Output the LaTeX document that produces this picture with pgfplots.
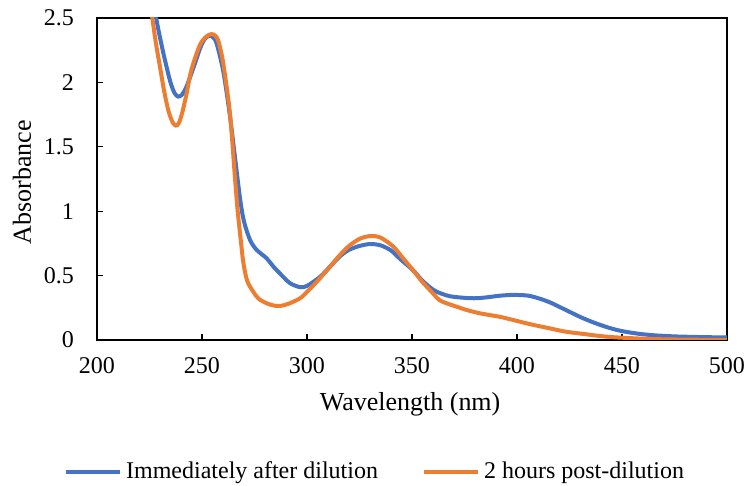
\documentclass[border=0pt]{standalone}
\usepackage{pgfplots}
\pgfplotsset{compat=1.18}
\usepackage{fontspec}
\setmainfont{Liberation Serif}
\definecolor{exblue}{HTML}{4472C4}
\definecolor{exorange}{HTML}{ED7D31}
\begin{document}
\rmfamily
\begin{tikzpicture}[font=\rmfamily]
\path[use as bounding box] (-48.5pt,-73pt) rectangle (324.5pt,170pt);
\begin{axis}[
  at={(0pt,0pt)}, anchor=south west,
  scale only axis, width=315pt, height=161pt,
  xmin=200, xmax=500, ymin=0, ymax=2.5,
  xtick={200,250,...,500}, ytick={0,0.5,...,2.5},
  yticklabels={0,0.5,1,1.5,2,2.5},
  tick pos=left, tick align=inside,
  major tick length=3pt,
  axis line style={line width=1pt},
  every tick/.style={black, line width=0.6pt},
  /pgf/number format/assume math mode=true,
  ticklabel style={font=\rmfamily\fontsize{12}{14}\selectfont},
  xticklabel style={yshift=-5pt},
  yticklabel style={xshift=-8pt},
  xlabel={Wavelength (nm)}, ylabel={Absorbance},
  every axis x label/.style={at={(axis description cs:0.497,-0.2)}, anchor=center, font=\rmfamily\fontsize{13}{15}\selectfont},
  every axis y label/.style={at={(axis description cs:-0.119,0.49)}, anchor=center, rotate=90, font=\rmfamily\fontsize{13}{15}\selectfont},
  legend columns=2,
  legend style={draw=none, at={(axis description cs:0.443,-0.41)}, anchor=center, font=\rmfamily\fontsize{12}{14}\selectfont, /tikz/every even column/.append style={column sep=20pt}},
  legend image code/.code={\draw[#1] (0pt,0pt) -- (27pt,0pt);},
  clip=true,
]
\addplot[exblue, line width=2pt, smooth, tension=0.5] coordinates {
(225,2.80) (228.4,2.48) (230.5,2.31) (232.4,2.17) (235,2.00) (237,1.915) (238.7,1.89) (240.5,1.905)
(242.7,1.97) (246.7,2.15) (249,2.26) (251,2.33) (253,2.36) (255,2.355) (257,2.30) (260.2,2.08)
(263.3,1.74) (265.7,1.42) (268.1,1.10) (270,0.92) (272.9,0.776) (276,0.70) (280.8,0.634)
(284,0.57) (288.7,0.49) (292,0.44) (296.7,0.41) (300,0.42) (306.2,0.49) (311,0.57)
(315.7,0.65) (320,0.70) (325,0.73) (330,0.745) (335,0.735) (340,0.695) (344.3,0.63)
(350.6,0.54) (355,0.46) (360.1,0.39) (364,0.36) (368,0.34) (372.9,0.33) (379.5,0.324)
(385,0.33) (391.9,0.344) (398.2,0.35) (405,0.345) (410,0.325) (415.7,0.292) (423,0.235)
(431.6,0.168) (440,0.115) (447.5,0.078) (455,0.055) (463.3,0.039) (475,0.028) (490,0.022) (500,0.02)
};
\addlegendentry{Immediately after dilution}
\addplot[exorange, line width=2pt, smooth, tension=0.5] coordinates {
(224,2.75) (226.5,2.48) (228,2.31) (230,2.12) (232,1.93) (234,1.78) (236,1.69) (237.6,1.665)
(239,1.685) (240.5,1.76) (242.5,1.90) (245,2.10) (249,2.29) (252,2.355) (254.5,2.375) (256.5,2.36)
(258,2.31) (260.2,2.14) (263.3,1.76) (265.7,1.26) (267,1.00) (268.5,0.77) (269.7,0.60)
(271.5,0.46) (274.4,0.375) (277,0.32) (280.8,0.285) (284,0.268) (287.1,0.264) (291,0.28)
(296.7,0.324) (301,0.39) (306.2,0.48) (311,0.57) (315.7,0.66) (320,0.73) (325,0.785)
(330,0.807) (335,0.795) (341.1,0.725) (346,0.63) (350.6,0.54) (355,0.45) (360.1,0.36)
(363,0.31) (366.5,0.285) (371,0.26) (376,0.233) (383,0.205) (391.9,0.18) (398.2,0.155)
(407,0.12) (415.7,0.09) (423,0.065) (431.6,0.047) (440,0.03) (447.5,0.02) (463.3,0.008)
(480,0.003) (500,0.0)
};
\addlegendentry{2 hours post-dilution}
\end{axis}
\end{tikzpicture}
\end{document}
